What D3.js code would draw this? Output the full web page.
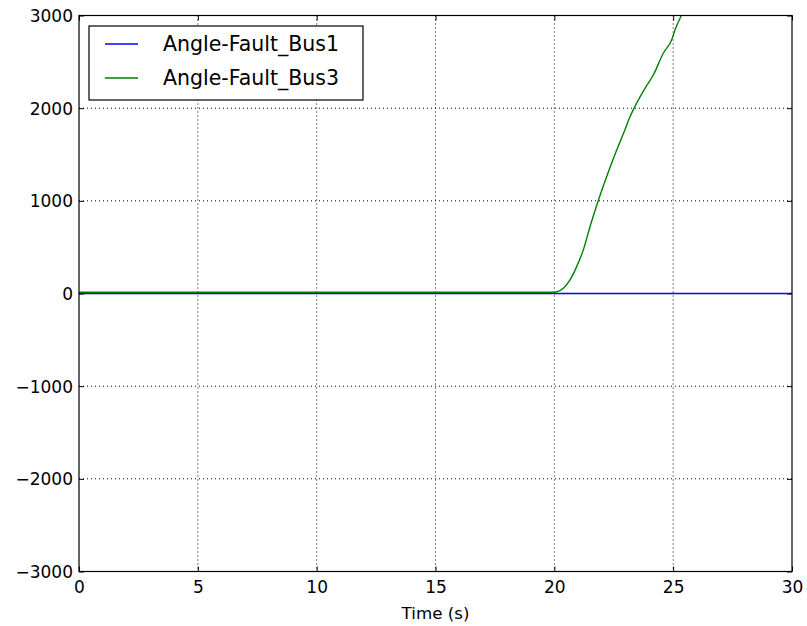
<!DOCTYPE html>
<html>
<head>
<meta charset="utf-8">
<script src="https://cdn.jsdelivr.net/npm/d3@7"></script>
<style>
  body { margin: 0; background: #fff; }
  svg { display: block; font-family: "DejaVu Sans", sans-serif; }
</style>
</head>
<body>
<svg id="chart" width="807" height="626"></svg>
<script>
// series
const bus1Time = [0, 30];
const bus1Angle = [0, 0];

const bus3Time = [0, 5, 10, 15, 20, 20.07, 20.38, 20.66, 20.94, 21.22, 21.5, 21.85, 22.2, 22.62, 22.97, 23.16, 23.39, 23.82, 24.17, 24.59, 24.94, 25.08, 25.36, 26];
const bus3Angle = [14, 14, 14, 14, 14, 16, 57, 147, 290, 471, 720, 1003, 1260, 1545, 1767, 1893, 2018, 2217, 2361, 2595, 2739, 2847, 3009, 3400];

const xTicks = [0, 5, 10, 15, 20, 25, 30];
const yTicks = [-3000, -2000, -1000, 0, 1000, 2000, 3000];
const seriesNames = ["Angle-Fault_Bus1", "Angle-Fault_Bus3"];
const seriesColors = ["#0000ff", "#008000"];

const margin = {top: 15.5, right: 15, bottom: 54.5, left: 79};
const svg = d3.select("#chart");
const width = +svg.attr("width") - margin.left - margin.right,
      height = +svg.attr("height") - margin.top - margin.bottom;

const x = d3.scaleLinear().domain([0, 30]).range([0, width]);
const y = d3.scaleLinear().domain([-3000, 3000]).range([height, 0]);

const g = svg.append("g").attr("transform", "translate(" + margin.left + "," + margin.top + ")");

g.append("clipPath").attr("id", "clip")
  .append("rect").attr("width", width).attr("height", height);

// grid
g.append("g").selectAll("line").data(xTicks.slice(1, -1)).join("line")
  .attr("x1", d => x(d)).attr("x2", d => x(d))
  .attr("y1", 0).attr("y2", height)
  .attr("stroke", "#000").attr("stroke-width", 1).attr("stroke-dasharray", "1,3");
g.append("g").selectAll("line").data(yTicks.slice(1, -1)).join("line")
  .attr("y1", d => y(d)).attr("y2", d => y(d))
  .attr("x1", 0).attr("x2", width)
  .attr("stroke", "#000").attr("stroke-width", 1).attr("stroke-dasharray", "1,3");

// lines
const series = [
  bus1Time.map((t, i) => ({t: t, v: bus1Angle[i]})),
  bus3Time.map((t, i) => ({t: t, v: bus3Angle[i]}))
];
const line = d3.line().x(d => x(d.t)).y(d => y(d.v)).curve(d3.curveMonotoneX);

g.append("g").attr("clip-path", "url(#clip)")
  .selectAll("path").data(series).join("path")
  .attr("fill", "none")
  .attr("stroke", (d, i) => seriesColors[i])
  .attr("stroke-width", 1.4)
  .attr("d", line);

// axes (ticks inside, on all four sides)
const fmt = d => d < 0 ? "\u2212" + Math.abs(d) : String(d);
const axBottom = g.append("g").attr("transform", "translate(0," + height + ")")
  .call(d3.axisBottom(x).tickValues(xTicks).tickSize(-5).tickPadding(9).tickFormat(fmt));
const axLeft = g.append("g")
  .call(d3.axisLeft(y).tickValues(yTicks).tickSize(-5).tickPadding(6).tickFormat(fmt));
const axTop = g.append("g")
  .call(d3.axisTop(x).tickValues(xTicks).tickSize(-5).tickFormat(""));
const axRight = g.append("g").attr("transform", "translate(" + width + ",0)")
  .call(d3.axisRight(y).tickValues(yTicks).tickSize(-5).tickFormat(""));

[axBottom, axLeft, axTop, axRight].forEach(a => {
  a.select(".domain").remove();
  a.selectAll("line").attr("stroke", "#000");
  a.selectAll("text").attr("font-size", 17).attr("fill", "#000")
    .attr("font-family", "DejaVu Sans");
});
axLeft.selectAll("text").attr("dy", "0.36em");

g.append("rect").attr("width", width).attr("height", height)
  .attr("fill", "none").attr("stroke", "#000").attr("stroke-width", 1.2);

g.append("text")
  .attr("x", width / 2).attr("y", height + 47.5)
  .attr("text-anchor", "middle").attr("font-size", 16.7)
  .text("Time (s)");

// legend
const legend = g.append("g").attr("transform", "translate(10,10.5)");
legend.append("rect").attr("width", 274).attr("height", 74)
  .attr("fill", "#fff").attr("stroke", "#000").attr("stroke-width", 1.2);
const item = legend.selectAll("g.item").data(seriesNames).join("g")
  .attr("class", "item")
  .attr("transform", (d, i) => "translate(0," + (18 + i * 34) + ")");
item.append("line").attr("x1", 16).attr("x2", 49)
  .attr("stroke", (d, i) => seriesColors[i]).attr("stroke-width", 1.4);
item.append("text").attr("x", 74).attr("dy", "0.36em")
  .attr("font-size", 20.5).text(d => d);
</script>
</body>
</html>
